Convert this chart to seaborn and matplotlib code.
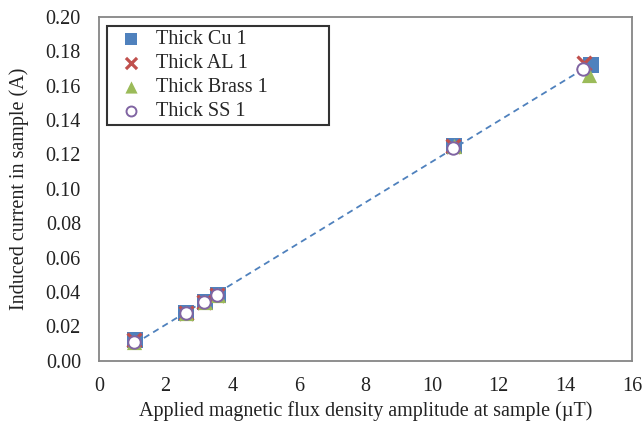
import matplotlib
matplotlib.use("Agg")
import matplotlib.pyplot as plt
import seaborn as sns
import numpy as np
import pandas as pd

# Data
cu_x = [1.07, 2.62, 3.17, 3.57, 10.66, 14.77]
cu_y = [0.012, 0.028, 0.034, 0.038, 0.125, 0.172]
al_x = [1.05, 2.60, 3.15, 3.55, 10.62, 14.55]
al_y = [0.012, 0.028, 0.034, 0.038, 0.125, 0.173]
brass_x = [1.05, 2.62, 3.17, 3.57, 10.66, 14.72]
brass_y = [0.011, 0.028, 0.034, 0.038, 0.125, 0.166]
ss_x = [1.05, 2.60, 3.15, 3.55, 10.62, 14.52]
ss_y = [0.011, 0.028, 0.034, 0.038, 0.124, 0.170]
labels = ["Thick Cu 1", "Thick AL 1", "Thick Brass 1", "Thick SS 1"]
x_ticks = [0, 2, 4, 6, 8, 10, 12, 14, 16]
y_ticks = [0.00, 0.02, 0.04, 0.06, 0.08, 0.10, 0.12, 0.14, 0.16, 0.18, 0.20]

sns.set_theme(style="white")
plt.rcParams['font.family'] = ['Liberation Serif', 'DejaVu Serif']

fig = plt.figure(figsize=(6.43, 4.23), dpi=100)
ax = fig.add_axes([0.154, 0.147, 0.829, 0.813])

blue = "#4F81BD"
red = "#C0504D"
green = "#9BBB59"
purple = "#8064A2"
fs = 14.5

# Trendline (linear fit of Cu series)
sns.regplot(x=cu_x, y=cu_y, ax=ax, scatter=False, ci=None, truncate=True,
            line_kws=dict(color=blue, lw=1.3, ls=(0, (3.5, 2.5)), zorder=1))

sns.scatterplot(x=cu_x, y=cu_y, ax=ax, marker="s", s=120, color=blue,
                edgecolor=blue, linewidth=0, label=labels[0], zorder=3)
sns.scatterplot(x=al_x, y=al_y, ax=ax, marker="x", s=100, color=red,
                linewidth=2.3, label=labels[1], zorder=4)
sns.scatterplot(x=brass_x, y=brass_y, ax=ax, marker="^", s=120, color=green,
                edgecolor=green, linewidth=0, label=labels[2], zorder=5)
sns.scatterplot(x=ss_x, y=ss_y, ax=ax, marker="o", s=80, facecolor="white",
                edgecolor=purple, linewidth=1.4, label=labels[3], zorder=6)

ax.set_xlim(0, 16)
ax.set_ylim(0, 0.20)
ax.set_xticks(x_ticks)
ax.set_yticks(y_ticks)
ax.set_xticklabels([str(t) for t in x_ticks])
ax.set_yticklabels([f"{t:.2f}" for t in y_ticks])

for sp in ax.spines.values():
    sp.set_color("#868686")
    sp.set_linewidth(1.3)
ax.tick_params(axis="both", direction="in", length=5, width=1, color="#868686",
               labelsize=fs, labelcolor="#222222")
ax.tick_params(axis="y", pad=13)
ax.tick_params(axis="x", pad=12)

ax.set_xlabel("Applied magnetic flux density amplitude at sample (\u00b5T)",
              fontsize=fs, color="#222222", labelpad=3)
ax.set_ylabel("Induced current in sample (A)", fontsize=fs, color="#222222",
              labelpad=12)

leg = ax.legend(loc="upper left", bbox_to_anchor=(0.015, 0.5, 0.4165, 0.474),
                mode="expand", fontsize=fs,
                frameon=True, fancybox=False, edgecolor="black",
                borderpad=0.2, labelspacing=0.25, handletextpad=0.25,
                handlelength=2.0, borderaxespad=0.0, markerscale=0.8)
leg.get_frame().set_linewidth(1.5)

fig.savefig("out.png", dpi=100)
